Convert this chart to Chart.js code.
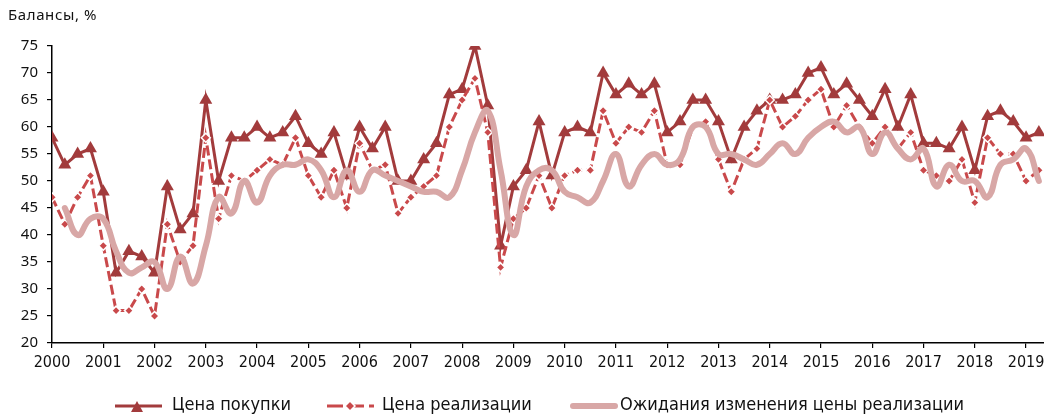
<!DOCTYPE html>
<html>
<head>
<meta charset="utf-8">
<script src="https://cdn.jsdelivr.net/npm/chart.js@4.4.0/dist/chart.umd.min.js"></script>
<style>
    html, body { margin: 0; padding: 0; background: #fff; }
    #marco { position: relative; width: 1044px; height: 417px; overflow: hidden; }
    #grafico { position: absolute; left: 0; top: 0; }
    #titulo { position: absolute; left: 8px; top: 4px; font: 15px "Noto Sans", sans-serif; color: #111; letter-spacing: 0.6px; }
    .item { position: absolute; top: 394px; height: 24px; }
    .item svg { position: absolute; top: 5px; left: 0; }
    .item span { position: absolute; top: -1px; white-space: nowrap; font: 18px "Liberation Sans Narrow", "DejaVu Sans Condensed", sans-serif; color: #111; }
</style>
</head>
<body>
<div id="marco">
    <canvas id="grafico" width="1044" height="417"></canvas>
    <div id="titulo">Балансы, %</div>
    <div class="item" style="left:115px">
        <svg width="48" height="14"><line x1="0" y1="7" x2="47" y2="7" stroke="#A23B3C" stroke-width="3"/><polygon points="16,13 28,13 22,2" fill="#A23B3C"/></svg>
        <span style="left:57px">Цена покупки</span>
    </div>
    <div class="item" style="left:327px">
        <svg width="48" height="14"><line x1="0" y1="7" x2="47" y2="7" stroke="#C9494B" stroke-width="3" stroke-dasharray="16,5"/><polygon points="23,2 28,7 23,12 18,7" fill="#C9494B" stroke="#fff" stroke-width="1.5"/></svg>
        <span style="left:55px">Цена реализации</span>
    </div>
    <div class="item" style="left:570px">
        <svg width="48" height="14"><line x1="3" y1="7" x2="45" y2="7" stroke="#D8A7A6" stroke-width="6" stroke-linecap="round"/></svg>
        <span style="left:50px">Ожидания изменения цены реализации</span>
    </div>
</div>
<script>
    const anios = [2000, 2001, 2002, 2003, 2004, 2005, 2006, 2007, 2008, 2009,
                   2010, 2011, 2012, 2013, 2014, 2015, 2016, 2017, 2018, 2019];

    // Цена покупки, с 1 кв. 2000
    const precioCompra = [
        58, 53, 55, 56,  48, 33, 37, 36,  33, 49, 41, 44,  65, 50, 58, 58,
        60, 58, 59, 62,  57, 55, 59, 51,  60, 56, 60, 50,  50, 54, 57, 66,
        67, 75, 64, 38,  49, 52, 61, 51,  59, 60, 59, 70,  66, 68, 66, 68,
        59, 61, 65, 65,  61, 54, 60, 63,  65, 65, 66, 70,  71, 66, 68, 65,
        62, 67, 60, 66,  57, 57, 56, 60,  52, 62, 63, 61,  58, 59
    ];

    // Цена реализации, с 1 кв. 2000
    const precioVenta = [
        47, 42, 47, 51,  38, 26, 26, 30,  25, 42, 35, 38,  58, 43, 51, 50,
        52, 54, 53, 58,  51, 47, 52, 45,  57, 52, 53, 44,  47, 49, 51, 60,
        65, 69, 59, 34,  43, 45, 51, 45,  51, 52, 52, 63,  57, 60, 59, 63,
        53, 53, 60, 61,  54, 48, 54, 56,  65, 60, 62, 65,  67, 60, 64, 60,
        57, 60, 56, 59,  52, 51, 50, 54,  46, 58, 55, 55,  50, 52
    ];

    // Ожидания изменения цены реализации, со 2 кв. 2000
    const expectativa = [
            45, 40, 43,  43, 37, 33, 34,  35, 30, 36, 31,  38, 47, 44, 50,
        46, 51, 53, 53,  54, 52, 47, 52,  48, 52, 51, 50,  49, 48, 48, 47,
        52, 59, 63, 52,  40, 49, 52, 52,  48, 47, 46, 50,  55, 49, 53, 55,
        53, 54, 60, 60,  55, 55, 54, 53,  55, 57, 55, 58,  60, 61, 59, 60,
        55, 59, 56, 54,  56, 49, 53, 50,  50, 47, 53, 54,  56, 50
    ];

    const inicio = 2000;
    const trimestres = (valores, desfase) =>
        valores.map((v, i) => ({ x: inicio + (i + desfase) / 4, y: v }));

    const fuenteX = { family: '"Liberation Sans Narrow", "DejaVu Sans Condensed", sans-serif', size: 16 };
    const fuenteY = { family: '"Noto Sans", sans-serif', size: 15 };

    new Chart(document.getElementById('grafico').getContext('2d'), {
        type: 'line',
        data: {
            datasets: [{
                label: 'Цена покупки',
                data: trimestres(precioCompra, 0),
                borderColor: '#A23B3C',
                backgroundColor: '#A23B3C',
                borderWidth: 3,
                pointStyle: 'triangle',
                pointRadius: 7.5,
                pointBorderWidth: 0,
                tension: 0,
                order: 2
            }, {
                label: 'Цена реализации',
                data: trimestres(precioVenta, 0),
                borderColor: '#C9494B',
                backgroundColor: '#C9494B',
                borderWidth: 3,
                borderDash: [10, 4],
                pointStyle: 'rectRot',
                pointRadius: 4.5,
                pointBorderColor: '#fff',
                pointBorderWidth: 1.5,
                tension: 0,
                order: 1
            }, {
                label: 'Ожидания изменения цены реализации',
                data: trimestres(expectativa, 1),
                borderColor: '#D8A7A6',
                backgroundColor: '#D8A7A6',
                borderWidth: 6,
                borderCapStyle: 'round',
                pointRadius: 0,
                tension: 0.45,
                order: 0
            }]
        },
        options: {
            responsive: false,
            animation: false,
            layout: { autoPadding: false, padding: { top: 46, right: 0, left: 0, bottom: 0 } },
            plugins: {
                legend: { display: false },
                tooltip: { enabled: false }
            },
            scales: {
                x: {
                    type: 'linear',
                    min: 2000,
                    max: 2019.35,
                    afterBuildTicks: s => { s.ticks = anios.map(v => ({ value: v })); },
                    afterFit: s => { s.height = 74; s.paddingLeft = 0; s.paddingRight = 0; },
                    ticks: {
                        autoSkip: false,
                        maxRotation: 0,
                        padding: 5,
                        color: '#111',
                        font: fuenteX,
                        callback: v => String(v)
                    },
                    grid: { drawOnChartArea: false, tickLength: 5, color: '#000', lineWidth: 1.2 },
                    border: { color: '#000', width: 1.5 }
                },
                y: {
                    min: 20,
                    max: 75,
                    afterFit: s => { s.width = 52; s.paddingTop = 0; s.paddingBottom = 0; },
                    ticks: { stepSize: 5, padding: 9, color: '#111', font: fuenteY },
                    grid: { drawOnChartArea: false, tickLength: 5, color: '#000', lineWidth: 1.2 },
                    border: { color: '#000', width: 1.5 }
                }
            }
        }
    });
</script>
</body>
</html>
